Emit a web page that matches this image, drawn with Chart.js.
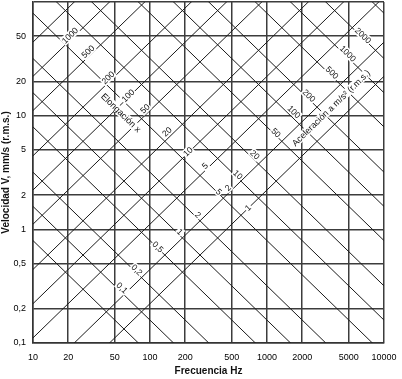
<!DOCTYPE html>
<html lang="es">
<head>
<meta charset="UTF-8">
<title>Nomograma de vibraciones</title>
<style>
  html, body { margin: 0; padding: 0; background: #fff; }
  #wrap { width: 402px; height: 379px; }
</style>
</head>
<body>
<div id="wrap"><canvas id="nomograma" width="402" height="379"></canvas></div>
<script src="https://cdn.jsdelivr.net/npm/chart.js@4"></script>
<script>
// ejes
const frecuencias = [10, 20, 50, 100, 200, 500, 1000, 2000, 5000, 10000];
const velocidades = [0.1, 0.2, 0.5, 1, 2, 5, 10, 20, 50, 100];

// rectas de elongación (suben): velocidad leída a 10 Hz y a 10 kHz
const elongValores = [2000, 1000, 500, 200, 100, 50, 20, 10, 5, 2, 1];
const elongVel10 = [44.4, 22.2, 11.1, 4.44, 2.22, 1.11, 0.444, 0.222, 0.111, 0.0444, 0.0222];
const elongVel10k = [44400, 22200, 11100, 4440, 2220, 1110, 444, 222, 111, 44.4, 22.2];

// rectas de aceleración (bajan): velocidad a 10 Hz y a 10 kHz
const acelValores = [5000, 2000, 1000, 500, 200, 100, 50, 20, 10, 5, 2, 1, 0.5, 0.2, 0.1, 0.05];
const acelVel10 = [79600, 31800, 15900, 7960, 3180, 1590, 796, 318, 159, 79.6, 31.8, 15.9, 7.96, 3.18, 1.59, 0.796];
const acelVel10k = [79.6, 31.8, 15.9, 7.96, 3.18, 1.59, 0.796, 0.318, 0.159, 0.0796, 0.0318, 0.0159, 0.00796, 0.00318, 0.00159, 0.000796];

// rótulos sobre las rectas (posición en Hz y mm/s)
const elongRotulos = ['1000', '500', '200', '100', '50', '20', '10', '5', '2', '1'];
const elongRotFrec = [20.7, 29.5, 43.8, 64.9, 90.6, 139.6, 211, 295, 464, 689];
const elongRotVel = [50.7, 36.6, 21.6, 15.0, 11.5, 7.22, 4.82, 3.62, 2.32, 1.55];

const acelRotulos = ['2000', '1000', '500', '200', '100', '50', '20', '10', '5', '2', '1', '0,5', '0,2', '0,1'];
const acelRotFrec = [6620, 4920, 3600, 2285, 1702, 1194, 789, 565, 389, 257, 180, 117, 77.4, 57.7];
const acelRotVel = [50.7, 35.2, 23.9, 15.0, 10.8, 7.08, 4.53, 3.02, 2.14, 1.34, 0.95, 0.70, 0.44, 0.305];

const tituloElong = { texto: 'Elongación x', frec: 56.5, vel: 10.6 };
const tituloAcel = { texto: 'Aceleración a m/s² (r.m.s.)', frec: 3525, vel: 11.7 };

const datasets = [];
elongValores.forEach((d, i) => {
  datasets.push({
    label: 'x ' + d,
    data: [{ x: 10, y: elongVel10[i] }, { x: 10000, y: elongVel10k[i] }],
    borderColor: '#1a1a1a', borderWidth: 1, pointRadius: 0
  });
});
acelValores.forEach((a, i) => {
  datasets.push({
    label: 'a ' + a,
    data: [{ x: 10, y: acelVel10[i] }, { x: 10000, y: acelVel10k[i] }],
    borderColor: '#1a1a1a', borderWidth: 1, pointRadius: 0
  });
});

// textos girados a lo largo de las rectas
const rotulos = {
  id: 'rotulos',
  afterDatasetsDraw(chart) {
    const { ctx, chartArea: ca, scales: { x, y } } = chart;
    const ang = Math.atan2(y.getPixelForValue(10) - y.getPixelForValue(1),
                           x.getPixelForValue(100) - x.getPixelForValue(10));
    const texto = (t, f, v, giro, font) => {
      const px = x.getPixelForValue(f), py = y.getPixelForValue(v);
      ctx.save();
      ctx.translate(px, py);
      ctx.rotate(giro);
      ctx.font = font;
      const w = ctx.measureText(t).width;
      ctx.fillStyle = '#fff';
      ctx.fillRect(-w / 2 - 1, -4.5, w + 2, 9);
      ctx.fillStyle = '#111';
      ctx.textAlign = 'center';
      ctx.textBaseline = 'middle';
      ctx.fillText(t, 0, 0.5);
      ctx.restore();
    };
    ctx.save();
    ctx.beginPath();
    ctx.rect(ca.left, ca.top, ca.right - ca.left, ca.bottom - ca.top);
    ctx.clip();
    const f = '8.5px "Liberation Sans", Arial, sans-serif';
    elongRotulos.forEach((t, i) => texto(t, elongRotFrec[i], elongRotVel[i], ang, f));
    acelRotulos.forEach((t, i) => texto(t, acelRotFrec[i], acelRotVel[i], -ang, f));
    const ft = '9px "Liberation Sans", Arial, sans-serif';
    texto(tituloElong.texto, tituloElong.frec, tituloElong.vel, -ang, ft);
    texto(tituloAcel.texto, tituloAcel.frec, tituloAcel.vel, ang, ft);
    ctx.restore();
  }
};

const fuente = { family: '"Liberation Sans", Arial, sans-serif', size: 9 };
const fuenteTitulo = { family: '"Liberation Sans", Arial, sans-serif', size: 10, weight: 'bold' };
const rejilla = { color: '#3c3c3c', lineWidth: 1.5, drawTicks: false };
const borde = { display: true, color: '#333', width: 1.5 };

new Chart(document.getElementById('nomograma'), {
  type: 'line',
  data: { datasets },
  options: {
    responsive: false,
    animation: false,
    layout: { padding: { top: 2, right: 18, left: 0, bottom: 0 } },
    plugins: { legend: { display: false }, tooltip: { enabled: false } },
    scales: {
      x: {
        type: 'logarithmic', min: 10, max: 10000,
        afterBuildTicks: s => { s.ticks = frecuencias.map(v => ({ value: v })); },
        afterFit: s => { s.height = 36; s.paddingLeft = 0; s.paddingRight = 0; },
        ticks: { font: fuente, color: '#000', padding: 9, autoSkip: false, maxRotation: 0,
                 callback: v => String(v) },
        grid: rejilla, border: borde,
        title: { display: true, text: 'Frecuencia Hz', font: fuenteTitulo, color: '#111', padding: { top: 2, bottom: 2 } }
      },
      y: {
        type: 'logarithmic', min: 0.1, max: 100,
        afterBuildTicks: s => { s.ticks = velocidades.map(v => ({ value: v })); },
        afterFit: s => { s.width = 33; s.paddingTop = 0; s.paddingBottom = 0; },
        ticks: { font: fuente, color: '#000', padding: 7, autoSkip: false,
                 callback: v => v === 100 ? '' : String(v).replace('.', ',') },
        grid: rejilla, border: borde,
        title: { display: true, text: 'Velocidad V, mm/s (r.m.s.)', font: fuenteTitulo, color: '#111', padding: { top: 0, bottom: 1 } }
      }
    }
  },
  plugins: [rotulos]
});
</script>
</body>
</html>
